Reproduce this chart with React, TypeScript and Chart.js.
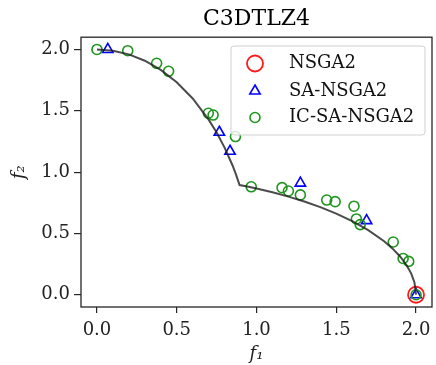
import React, { useEffect, useRef } from "react";
import { Chart, registerables } from "chart.js";

Chart.register(...registerables);

const TITLE = "C3DTLZ4";
const X_LABEL = "f₁";
const Y_LABEL = "f₂";
const X_TICKS = [0, 0.5, 1.0, 1.5, 2.0];
const Y_TICKS = [0, 0.5, 1.0, 1.5, 2.0];
const SERIES_NAMES = ["NSGA2", "SA-NSGA2", "IC-SA-NSGA2"];

const NSGA2_X = [2.0];
const NSGA2_Y = [0.0];

const SA_X = [0.068, 0.767, 0.834, 1.275, 1.69, 2.0];
const SA_Y = [2.0, 1.325, 1.17, 0.91, 0.604, 0.0];

const IC_X = [0.0, 0.193, 0.374, 0.449, 0.698, 0.728, 0.868, 0.967, 1.16, 1.2, 1.275, 1.44, 1.493, 1.611, 1.626, 1.65, 1.857, 1.919, 1.954, 2.0];
const IC_Y = [2.0, 1.99, 1.887, 1.822, 1.48, 1.465, 1.29, 0.88, 0.873, 0.846, 0.814, 0.772, 0.759, 0.722, 0.618, 0.572, 0.43, 0.296, 0.272, 0.0];

const FRONT_X = [0, 0.1, 0.2, 0.3, 0.4, 0.5, 0.6, 0.7, 0.75, 0.8, 0.85, 0.87, 0.894, 0.95, 1.0, 1.1, 1.2, 1.3, 1.4, 1.5, 1.6, 1.7, 1.8, 1.85, 1.9, 1.94, 1.97, 1.99, 2.0];
const FRONT_Y = [2.0, 1.99, 1.96, 1.908, 1.833, 1.732, 1.6, 1.428, 1.323, 1.2, 1.054, 0.986, 0.894, 0.88, 0.866, 0.835, 0.8, 0.76, 0.714, 0.661, 0.6, 0.527, 0.436, 0.38, 0.312, 0.243, 0.172, 0.1, 0.0];

const FONT = "'DejaVu Serif', serif";
const RED = "#ff1a1a";
const BLUE = "#0000ff";
const GREEN = "#1e961e";

const zip = (xs: number[], ys: number[]) => xs.map((x, i) => ({ x, y: ys[i] }));

const framePlugin = {
  id: "frame",
  afterDatasetsDraw(chart: any) {
    const { ctx, chartArea } = chart;
    const { left, top, right, bottom } = chartArea;
    ctx.save();
    ctx.strokeStyle = "#262626";
    ctx.lineWidth = 1.3;
    ctx.strokeRect(left, top, right - left, bottom - top);
    ctx.restore();
  },
};

const legendPlugin = {
  id: "boxLegend",
  afterDraw(chart: any) {
    const { ctx } = chart;
    const x0 = 231, y0 = 46, x1 = 425, y1 = 135, r = 3;
    ctx.save();
    ctx.beginPath();
    ctx.moveTo(x0 + r, y0);
    ctx.lineTo(x1 - r, y0);
    ctx.quadraticCurveTo(x1, y0, x1, y0 + r);
    ctx.lineTo(x1, y1 - r);
    ctx.quadraticCurveTo(x1, y1, x1 - r, y1);
    ctx.lineTo(x0 + r, y1);
    ctx.quadraticCurveTo(x0, y1, x0, y1 - r);
    ctx.lineTo(x0, y0 + r);
    ctx.quadraticCurveTo(x0, y0, x0 + r, y0);
    ctx.closePath();
    ctx.fillStyle = "rgba(255,255,255,0.8)";
    ctx.fill();
    ctx.strokeStyle = "#d0d0d0";
    ctx.lineWidth = 1;
    ctx.stroke();

    const rows = [63.5, 91, 117.5];
    const mx = 255;
    const tx = 289;
    ctx.font = `18px ${FONT}`;
    ctx.textBaseline = "middle";
    ctx.textAlign = "left";
    SERIES_NAMES.forEach((name, i) => {
      const y = rows[i];
      ctx.beginPath();
      if (i === 0) {
        ctx.strokeStyle = RED;
        ctx.lineWidth = 1.8;
        ctx.arc(mx, y, 8, 0, Math.PI * 2);
      } else if (i === 1) {
        ctx.strokeStyle = BLUE;
        ctx.lineWidth = 1.6;
        const rr = 6;
        ctx.moveTo(mx, y - rr);
        ctx.lineTo(mx + rr * Math.sin((2 * Math.PI) / 3), y - rr * Math.cos((2 * Math.PI) / 3));
        ctx.lineTo(mx + rr * Math.sin((4 * Math.PI) / 3), y - rr * Math.cos((4 * Math.PI) / 3));
        ctx.closePath();
      } else {
        ctx.strokeStyle = GREEN;
        ctx.lineWidth = 1.6;
        ctx.arc(mx, y, 5, 0, Math.PI * 2);
      }
      ctx.stroke();
      ctx.fillStyle = "#111";
      ctx.fillText(name, tx, y);
    });
    ctx.restore();
  },
};

export default function App() {
  const ref = useRef<HTMLCanvasElement | null>(null);

  useEffect(() => {
    if (!ref.current) return;
    const chart = new Chart(ref.current, {
      type: "scatter",
      data: {
        datasets: [
          {
            label: "front",
            data: zip(FRONT_X, FRONT_Y),
            showLine: true,
            borderColor: "rgba(30,30,30,0.8)",
            borderWidth: 2,
            pointRadius: 0,
            tension: 0,
            order: 0,
          },
          {
            label: SERIES_NAMES[2],
            data: zip(IC_X, IC_Y),
            pointStyle: "circle",
            pointRadius: 5,
            pointBorderWidth: 1.6,
            borderColor: GREEN,
            backgroundColor: "rgba(0,0,0,0)",
            order: 1,
          },
          {
            label: SERIES_NAMES[1],
            data: zip(SA_X, SA_Y),
            pointStyle: "triangle",
            pointRadius: 6,
            pointBorderWidth: 1.6,
            borderColor: BLUE,
            backgroundColor: "rgba(0,0,0,0)",
            order: 2,
          },
          {
            label: SERIES_NAMES[0],
            data: zip(NSGA2_X, NSGA2_Y),
            pointStyle: "circle",
            pointRadius: 8,
            pointBorderWidth: 1.8,
            borderColor: RED,
            backgroundColor: "rgba(0,0,0,0)",
            order: 3,
          },
        ] as any,
      },
      options: {
        animation: false,
        responsive: false,
        devicePixelRatio: 1,
        layout: { autoPadding: false, padding: { left: 0, right: 4, top: 0, bottom: 0 } },
        plugins: {
          legend: { display: false },
          tooltip: { enabled: false },
          title: {
            display: true,
            fullSize: false,
            text: TITLE,
            color: "#000",
            font: { family: FONT, size: 22, weight: "normal" },
            padding: { top: 5.8, bottom: 5 },
          },
        },
        scales: {
          x: {
            type: "linear",
            min: -0.1,
            max: 2.1,
            afterBuildTicks: (s: any) => {
              s.ticks = X_TICKS.map((v) => ({ value: v }));
            },
            afterFit: (s: any) => {
              s.height = 58;
              s.paddingLeft = 0;
              s.paddingRight = 0;
            },
            ticks: {
              callback: (v: any) => Number(v).toFixed(1),
              font: { family: FONT, size: 18 },
              color: "#222",
              padding: 7,
              maxRotation: 0,
              autoSkip: false,
            },
            grid: {
              display: true,
              drawOnChartArea: false,
              drawTicks: true,
              tickLength: 6,
              color: "#262626",
              lineWidth: 1.2,
            },
            border: { display: false },
            title: {
              display: true,
              text: X_LABEL,
              color: "#222",
              font: { family: FONT, size: 18, style: "italic" },
              padding: { top: 0, bottom: 0 },
            },
          },
          y: {
            type: "linear",
            min: -0.1,
            max: 2.1,
            afterBuildTicks: (s: any) => {
              s.ticks = Y_TICKS.map((v) => ({ value: v }));
            },
            afterFit: (s: any) => {
              s.width = 81;
              s.paddingTop = 0;
              s.paddingBottom = 0;
            },
            ticks: {
              callback: (v: any) => Number(v).toFixed(1),
              font: { family: FONT, size: 18 },
              color: "#222",
              padding: 4,
              autoSkip: false,
            },
            grid: {
              display: true,
              drawOnChartArea: false,
              drawTicks: true,
              tickLength: 7,
              color: "#262626",
              lineWidth: 1.2,
            },
            border: { display: false },
            title: {
              display: true,
              text: Y_LABEL,
              color: "#222",
              font: { family: FONT, size: 18, style: "italic" },
              padding: { top: 9, bottom: 0 },
            },
          },
        },
      } as any,
      plugins: [framePlugin, legendPlugin],
    });
    return () => chart.destroy();
  }, []);

  return (
    <div style={{ position: "absolute", left: 0, top: 0, width: 436, height: 365, background: "#fff" }}>
      <canvas ref={ref} width={436} height={365} style={{ display: "block", width: 436, height: 365 }} />
    </div>
  );
}
